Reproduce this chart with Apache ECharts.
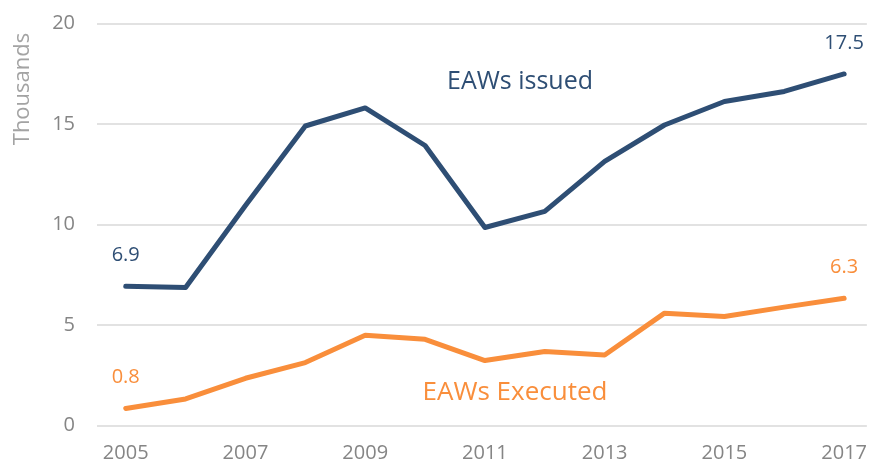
<!DOCTYPE html>
<html>
<head>
<meta charset="utf-8">
<script src="https://cdn.jsdelivr.net/npm/echarts@6/dist/echarts.min.js"></script>
<style>
html,body{margin:0;padding:0;background:#fff;}
#chart{width:870px;height:464px;}
</style>
</head>
<body>
<div id="chart"></div>
<script>
var years = [2005, 2006, 2007, 2008, 2009, 2010, 2011, 2012, 2013, 2014, 2015, 2016, 2017];
var issued = [6.93, 6.87, 10.95, 14.9, 15.8, 13.93, 9.85, 10.65, 13.14, 14.95, 16.12, 16.62, 17.49];
var executed = [0.85, 1.32, 2.35, 3.13, 4.49, 4.29, 3.23, 3.68, 3.51, 5.59, 5.42, 5.89, 6.33];
var xTickValues = [2005, 2007, 2009, 2011, 2013, 2015, 2017];
var yTicks = [0, 5, 10, 15, 20];

var NAVY = '#2E4E74';
var ORANGE = '#F98E3B';
var FONT = 'Open Sans';

function buildData(vals, color) {
  return vals.map(function (v, i) {
    var item = { value: [years[i], v] };
    if (i === 0 || i === vals.length - 1) {
      item.label = {
        show: true, position: 'top', distance: 21,
        color: color, fontSize: 20, fontFamily: FONT,
        formatter: function (p) { return p.value[1].toFixed(1); }
      };
    }
    return item;
  });
}

var chart = echarts.init(document.getElementById('chart'));
chart.setOption({
  animation: false,
  grid: { left: 97, right: 2, top: 23.5, bottom: 38.5 },
  xAxis: {
    type: 'value',
    min: 2004.52,
    max: 2017.38,
    axisLine: { show: false },
    axisTick: { show: false },
    splitLine: { show: false },
    axisLabel: {
      customValues: xTickValues,
      margin: 18,
      color: '#858585',
      fontSize: 20,
      fontFamily: FONT,
      formatter: function (v) { return String(v); }
    }
  },
  yAxis: {
    type: 'value',
    min: yTicks[0],
    max: yTicks[yTicks.length - 1],
    interval: 5,
    axisLine: { show: false },
    axisTick: { show: false },
    axisLabel: { margin: 22, color: '#858585', fontSize: 20, fontFamily: FONT },
    splitLine: { lineStyle: { color: '#d9d9d9', width: 1.5 } }
  },
  graphic: [
    {
      type: 'text', x: 23, y: 89, rotation: Math.PI / 2,
      style: { text: 'Thousands', fill: '#a3a3a3', font: '22px "Open Sans"', align: 'center', verticalAlign: 'middle' }
    },
    {
      type: 'text', x: 520, y: 82,
      style: { text: 'EAWs issued', fill: NAVY, font: '25px "Open Sans"', align: 'center', verticalAlign: 'middle' }
    },
    {
      type: 'text', x: 515, y: 392.5,
      style: { text: 'EAWs Executed', fill: ORANGE, font: '26px "Open Sans"', align: 'center', verticalAlign: 'middle' }
    }
  ],
  series: [
    {
      name: 'EAWs issued', type: 'line', data: buildData(issued, NAVY),
      symbol: 'circle', symbolSize: 0, showSymbol: true,
      lineStyle: { color: NAVY, width: 5, cap: 'round', join: 'round' },
      itemStyle: { color: NAVY }
    },
    {
      name: 'EAWs Executed', type: 'line', data: buildData(executed, ORANGE),
      symbol: 'circle', symbolSize: 0, showSymbol: true,
      lineStyle: { color: ORANGE, width: 5, cap: 'round', join: 'round' },
      itemStyle: { color: ORANGE }
    }
  ]
});
</script>
</body>
</html>
